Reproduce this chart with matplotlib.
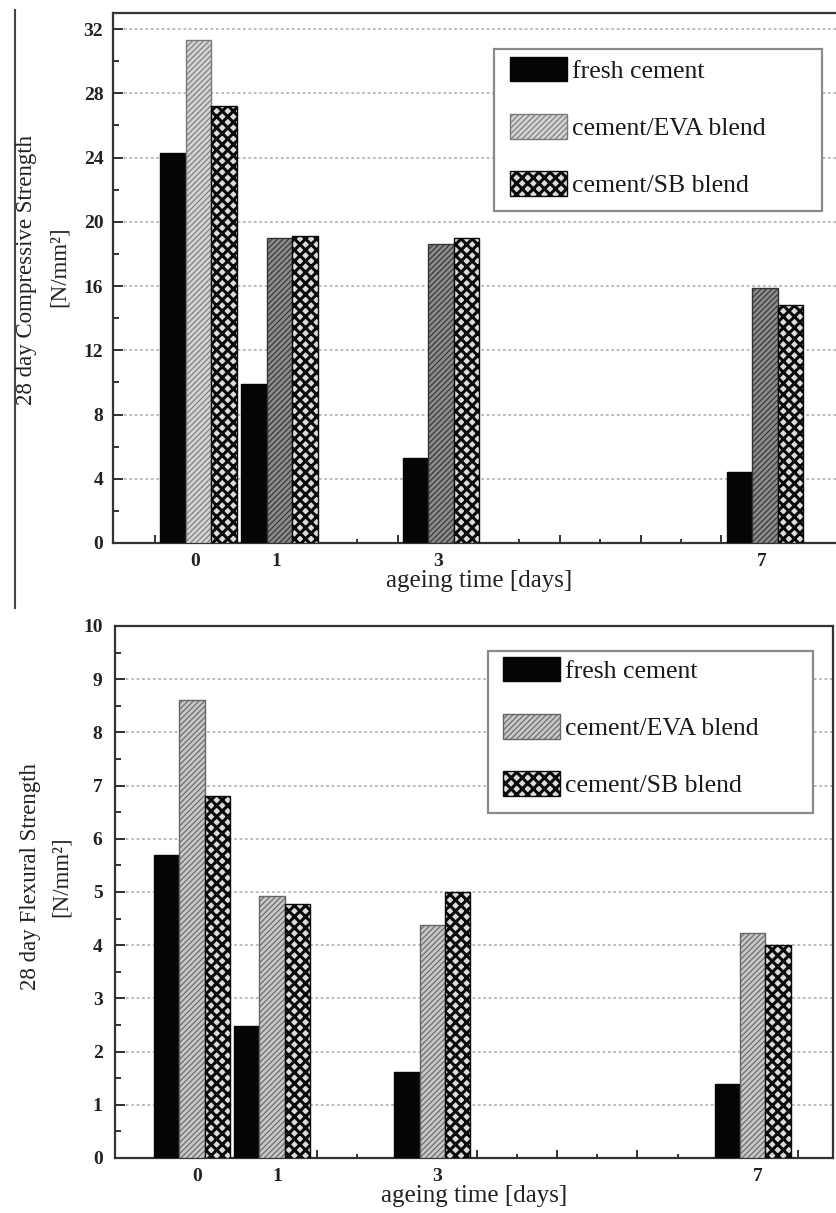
import matplotlib
matplotlib.use("Agg")
import matplotlib.pyplot as plt
from matplotlib.patches import Rectangle
from matplotlib.lines import Line2D
import numpy as np

# ---------------- data ----------------
ages = [0, 1, 3, 7]
age_labels = ["0", "1", "3", "7"]
series_names = ["fresh cement", "cement/EVA blend", "cement/SB blend"]

comp_fresh = [24.3, 9.9, 5.3, 4.4]
comp_eva = [31.3, 19.0, 18.6, 15.9]
comp_sb = [27.2, 19.1, 19.0, 14.8]

flex_fresh = [5.7, 2.48, 1.62, 1.39]
flex_eva = [8.6, 4.92, 4.38, 4.23]
flex_sb = [6.8, 4.77, 5.0, 4.0]

ylabel_top = ["28 day Compressive Strength", "[N/mm²]"]
ylabel_bot = ["28 day Flexural Strength", "[N/mm²]"]
xlabel = "ageing time [days]"

# ---------------- style ----------------
W, H = 836, 1213
plt.rcParams["font.family"] = ["Liberation Serif", "DejaVu Serif"]
fig = plt.figure(figsize=(W / 100, H / 100), dpi=100)


def fx(px):
    return px / W


def fy(py):
    return 1 - py / H


def make_bars(ax, xs, vals, offset, width, face, edge, hatch, hlw, z=3):
    with plt.rc_context({"hatch.linewidth": hlw}):
        bc = ax.bar(xs + offset, vals, width, color=face, edgecolor=edge,
                    hatch=hatch, linewidth=1.0, zorder=z)
    for p in bc.patches:
        if hasattr(p, "set_hatch_linewidth"):
            p.set_hatch_linewidth(hlw)
    return bc


def style_axes(ax, ymax, ymajor, yminor, ypad):
    ax.set_xlim(-1.02, 7.94)
    ax.set_ylim(0, ymax)
    ax.set_xticks(np.arange(-0.5, 8.0, 1.0))
    ax.set_xticklabels([])
    ints = np.arange(0, 8)
    lab = {a: l for a, l in zip(ages, age_labels)}
    ax.set_xticks(ints, minor=True)
    ax.set_xticklabels([lab.get(int(i), "") for i in ints], minor=True)
    ax.set_yticks(ymajor)
    ax.set_yticks(yminor, minor=True)
    ax.tick_params(axis="both", which="both", direction="in", top=False,
                   right=False, width=1.3, color="#222222")
    ax.tick_params(axis="x", which="major", length=6)
    ax.tick_params(axis="x", which="minor", length=3, pad=7, labelsize=14)
    ax.tick_params(axis="y", which="major", length=7, pad=ypad, labelsize=14)
    ax.tick_params(axis="y", which="minor", length=4)
    for t in ax.get_xticklabels(minor=True) + ax.get_yticklabels():
        t.set_fontweight("bold")
        t.set_color("#222222")
    for s in ax.spines.values():
        s.set_linewidth(1.6)
        s.set_color("#333333")
    ax.set_axisbelow(True)
    ax.yaxis.grid(True, which="major", linestyle=(0, (1.5, 1.5)),
                  color="#b5b5b5", linewidth=1.3)


def draw_legend(ax, handles, box, handle_x, first_row_y, hlws):
    x0, y0, x1, y1 = box
    rect = Rectangle((fx(x0), fy(y1)), fx(x1) - fx(x0), fy(y0) - fy(y1),
                     transform=fig.transFigure, facecolor="white",
                     edgecolor="#8a8a8a", linewidth=1.6, zorder=8,
                     clip_on=False)
    ax.add_patch(rect)
    leg = ax.legend(handles, series_names, loc="upper left",
                    bbox_to_anchor=(fx(handle_x), fy(first_row_y - 14.5)),
                    bbox_transform=fig.transFigure, frameon=False,
                    borderpad=0, borderaxespad=0, fontsize=18.5,
                    handlelength=2.2, handleheight=1.1, handletextpad=0.2,
                    labelspacing=1.22)
    leg.set_zorder(9)
    for h, lw in zip(leg.legend_handles, hlws):
        if hasattr(h, "set_hatch_linewidth"):
            h.set_hatch_linewidth(lw)
    for t in leg.get_texts():
        t.set_color("#1a1a1a")


xs = np.array(ages, dtype=float)
bw = 0.315
off = 0.315
eva_hatch = "//////"
sb_hatch = "xxx"
hatch_lws = [1.0, 0.8, 2.2]

# ---------------- top panel ----------------
ax1 = fig.add_axes([fx(113), fy(543), fx(838) - fx(113), fy(13) - fy(543)])
sh = 0.035
b1 = make_bars(ax1, xs + sh, comp_fresh, -off, bw, "#050505", "#050505", None, hatch_lws[0])
eva_face_top = ["#d2d2d2", "#8a8a8a", "#8a8a8a", "#8a8a8a"]
eva_edge_top = ["#7a7a7a", "#333333", "#333333", "#333333"]
b2 = make_bars(ax1, xs + sh, comp_eva, 0.0, bw, eva_face_top, eva_edge_top, eva_hatch, hatch_lws[1])
b3 = make_bars(ax1, xs + sh, comp_sb, off, bw, "#dcdcdc", "#0a0a0a", sb_hatch, hatch_lws[2])
style_axes(ax1, 33, np.arange(0, 33, 4), np.arange(0, 33, 2), 7)
ax1.spines["right"].set_visible(False)
draw_legend(ax1, [b1, b2, b3], (494, 49, 822, 211), 510, 71, hatch_lws)

fig.text(fx(27), fy(270), ylabel_top[0], rotation=90, ha="center", va="center",
         fontsize=16.5, color="#222222")
fig.text(fx(59), fy(267), ylabel_top[1], rotation=90, ha="center", va="center",
         fontsize=16.5, color="#222222")
fig.text(fx(479), fy(581), xlabel, ha="center", va="center", fontsize=18,
         color="#222222")

# ---------------- bottom panel ----------------
ax2 = fig.add_axes([fx(115), fy(1158), fx(833) - fx(115), fy(626) - fy(1158)])
sh2 = -0.06
c1 = make_bars(ax2, xs + sh2, flex_fresh, -off, bw, "#050505", "#050505", None, hatch_lws[0])
c2 = make_bars(ax2, xs + sh2, flex_eva, 0.0, bw, "#c6c6c6", "#666666", eva_hatch, hatch_lws[1])
c3 = make_bars(ax2, xs + sh2, flex_sb, off, bw, "#dcdcdc", "#0a0a0a", sb_hatch, hatch_lws[2])
style_axes(ax2, 10, np.arange(0, 11, 1), np.arange(0, 10.01, 0.5), 9)
draw_legend(ax2, [c1, c2, c3], (488, 651, 813, 813), 503, 671, hatch_lws)

fig.text(fx(31), fy(877), ylabel_bot[0], rotation=90, ha="center", va="center",
         fontsize=16.5, color="#222222")
fig.text(fx(61), fy(877), ylabel_bot[1], rotation=90, ha="center", va="center",
         fontsize=16.5, color="#222222")
fig.text(fx(474), fy(1196), xlabel, ha="center", va="center", fontsize=18,
         color="#222222")

# scan artefact: vertical rule at the left of the upper panel
fig.add_artist(Line2D([fx(15), fx(15)], [fy(10), fy(608)], color="#444444",
                      linewidth=1.5, transform=fig.transFigure))

fig.savefig("out.png", dpi=100)
